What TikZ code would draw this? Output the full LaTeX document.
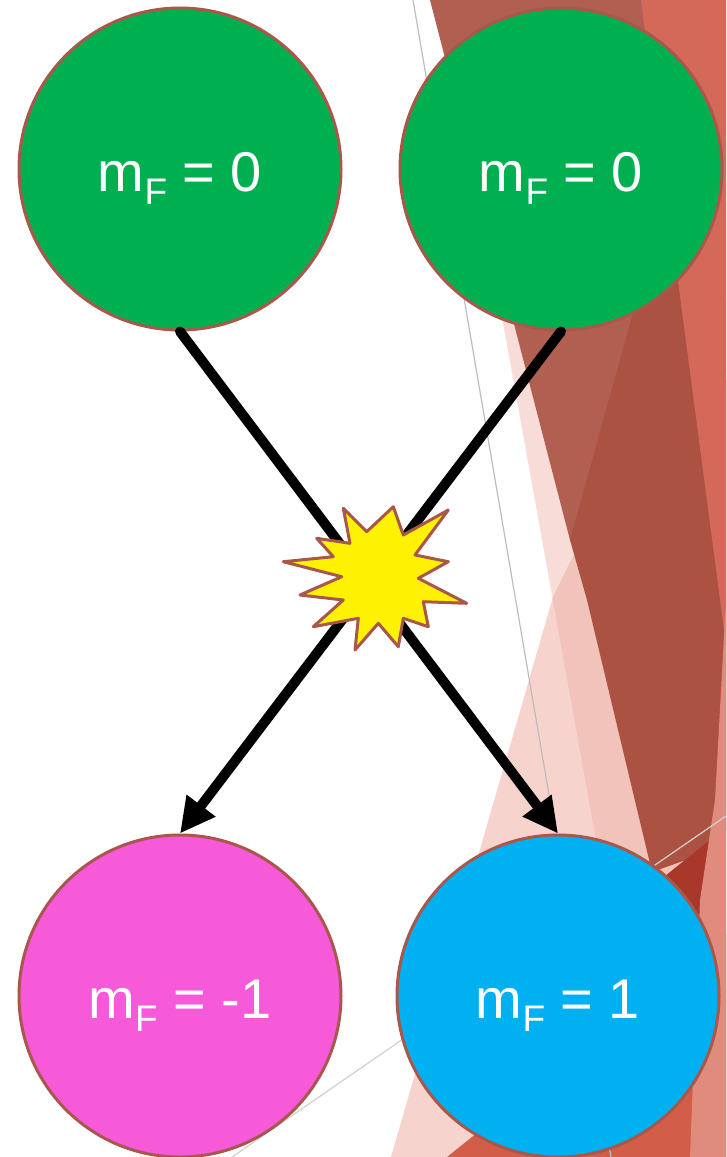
\documentclass[tikz,border=0pt]{standalone}
\usepackage{fontspec}
\setmainfont{Liberation Sans}
\usetikzlibrary{arrows.meta}
\definecolor{bgbrown}{HTML}{B05F50}
\definecolor{bgdark}{HTML}{AC5243}
\definecolor{bgsalmon}{HTML}{D4695A}
\definecolor{bgvl}{HTML}{F8DCD7}
\definecolor{bgl}{HTML}{F7D3CD}
\definecolor{bgmid}{HTML}{F2C3BB}
\definecolor{bgred}{HTML}{D25E4A}
\definecolor{bgdred}{HTML}{A8392A}
\definecolor{bgright}{HTML}{DF8B7D}
\definecolor{thinline}{HTML}{BDBDBD}
\definecolor{rimcol}{HTML}{A9574A}
\definecolor{mfgreen}{HTML}{00B050}
\definecolor{mfmagenta}{HTML}{F65AD9}
\definecolor{mfcyan}{HTML}{00B0F0}
\tikzset{
  state/.style={circle, draw=rimcol, line width=3pt, minimum size=322pt, inner sep=0pt,
    text=white, text height=45pt, text depth=0pt, font=\fontsize{56}{60}\selectfont},
  conn/.style={line width=10pt, black},
  flow/.style={conn, -{Triangle[length=35pt,width=34pt]}},
}
\newcommand{\subF}{\raisebox{-13pt}{\fontsize{37}{40}\selectfont F}}
\begin{document}
\begin{tikzpicture}[x=1pt,y=-1pt]
\useasboundingbox (0,0) rectangle (726,1157);
\fill[white] (0,0) rectangle (726,1157);
% background stripes
\fill[bgvl] (445,0) -- (726,0) -- (726,1157) -- (653,1157) -- cycle;
\fill[bgl] (553,597) -- (700,300) -- (726,300) -- (726,1157) -- (391,1157) -- cycle;
\begin{scope}
  \clip (445,0) -- (726,0) -- (726,1157) -- (653,1157) -- cycle;
  \fill[bgmid] (553,597) -- (700,300) -- (726,300) -- (726,1157) -- (391,1157) -- cycle;
\end{scope}
\fill[bgbrown] (430,0) -- (645,0) -- (700,400) -- (570,540) -- cycle;
\fill[bgdark] (666,190) -- (726,380) -- (726,830) -- (700,855) -- (652,872) -- (587,600) -- (570,540) -- (633,313) -- cycle;
\fill[bgsalmon] (641,0) -- (726,0) -- (726,645) -- cycle;
\fill[bgred] (447,1157) -- (726,934) -- (726,1157) -- cycle;
\fill[bgdred] (645,892) -- (710,840) -- (704,990) -- (680,990) -- cycle;
\fill[bgright] (726,600) -- (715,800) -- (700,900) -- (690,1157) -- (726,1157) -- cycle;
\draw[thinline, line width=1.2pt] (413,0) -- (611,1157);
\draw[thinline!70, line width=1.2pt] (232,1157) -- (726,816);
% states
\node[state, fill=mfgreen] (tl) at (180,169) {m\subF{} = 0};
\node[state, fill=mfgreen] (tr) at (561,169) {m\subF{} = 0};
\node[state, fill=mfmagenta] (bl) at (180,996) {m\subF{} = -1};
\node[state, fill=mfcyan] (br) at (558,996) {m\subF{} = 1};
% connectors
\draw[flow, line cap=round] (tl.south) -- (br.north);
\draw[flow, line cap=round] (tr.south) -- (bl.north);
% collision burst
\coordinate (burst) at (375,578);
\draw[fill=yellow, draw=rimcol, line width=3pt, line join=round]
  (343.3,508.3) -- (366.7,531.7) -- (393.3,506.7) -- (403.3,535) -- (448.3,510) -- (415,555)
  -- (448.3,561.7) -- (418.3,578.3) -- (466.7,603.3) -- (423.3,601.7) -- (428.3,626.7)
  -- (403.3,618.3) -- (398.3,646.7) -- (378.3,623.3) -- (355,650) -- (358.3,618.3)
  -- (313.3,626.7) -- (343.3,600) -- (300,595) -- (341.7,576.7) -- (283.3,561.7)
  -- (333.3,556.7) -- (316.7,538.3) -- (350,543.3) -- cycle;
\end{tikzpicture}
\end{document}
